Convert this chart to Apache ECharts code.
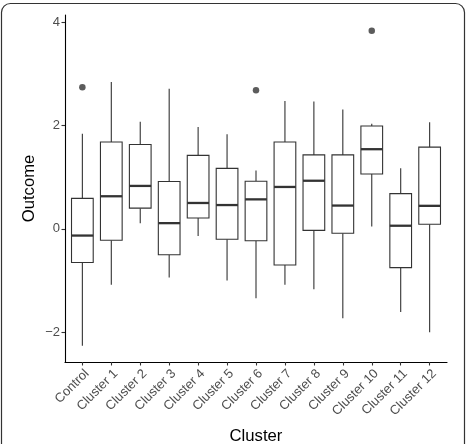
<!DOCTYPE html>
<html><head><meta charset="utf-8">
<script src="https://cdn.jsdelivr.net/npm/echarts@6/dist/echarts.min.js"></script>
<style>html,body{margin:0;padding:0;background:#fff}#c{width:467px;height:444px}</style>
</head><body><div id="c"></div>
<script>
const categories = ['Control','Cluster 1','Cluster 2','Cluster 3','Cluster 4','Cluster 5','Cluster 6','Cluster 7','Cluster 8','Cluster 9','Cluster 10','Cluster 11','Cluster 12'];
const whiskerLow  = [-2.26,-1.08,0.11,-0.94,-0.14,-1.00,-1.34,-1.08,-1.17,-1.73,0.045,-1.61,-2.00];
const q1          = [-0.65,-0.22,0.40,-0.50,0.21,-0.20,-0.23,-0.70,-0.03,-0.085,1.06,-0.75,0.09];
const medians     = [-0.13,0.63,0.83,0.11,0.50,0.46,0.57,0.81,0.93,0.45,1.54,0.06,0.445];
const q3          = [0.59,1.68,1.63,0.915,1.42,1.17,0.92,1.68,1.43,1.43,1.99,0.68,1.58];
const whiskerHigh = [1.84,2.84,2.07,2.71,1.97,1.83,1.13,2.47,2.46,2.31,2.03,1.17,2.06];
const outlierCategory = [0,6,10];
const outlierValue = [2.74,2.68,3.83];
const yTicks = [-2,0,2,4];

const xIdx = categories.map((c,i)=>i);
const boxData = categories.map((c,i)=>[i, whiskerLow[i], q1[i], medians[i], q3[i], whiskerHigh[i]]);
const outlierData = outlierCategory.map((c,i)=>[c, outlierValue[i]]);

function renderBox(params, api){
  const x = api.value(0);
  const band = api.size([1,0])[0];
  const half = band*0.75/2;
  const pLow = api.coord([x, api.value(1)]);
  const pQ1 = api.coord([x, api.value(2)]);
  const pMed = api.coord([x, api.value(3)]);
  const pQ3 = api.coord([x, api.value(4)]);
  const pHigh = api.coord([x, api.value(5)]);
  const cx = pLow[0];
  const st = {stroke:'#333', lineWidth:1.1, fill:null};
  return {type:'group', children:[
    {type:'line', shape:{x1:cx,y1:pQ3[1],x2:cx,y2:pHigh[1]}, style:st},
    {type:'line', shape:{x1:cx,y1:pQ1[1],x2:cx,y2:pLow[1]}, style:st},
    {type:'rect', shape:{x:cx-half,y:pQ3[1],width:2*half,height:pQ1[1]-pQ3[1]}, style:{stroke:'#333',lineWidth:1.1,fill:'#fff'}},
    {type:'line', shape:{x1:cx-half,y1:pMed[1],x2:cx+half,y2:pMed[1]}, style:{stroke:'#333',lineWidth:2.3}}
  ]};
}

const chart = echarts.init(document.getElementById('c'));
chart.setOption({
  backgroundColor:'#fff',
  animation:false,
  grid:{left:65,right:20,top:15,bottom:82,outerBoundsMode:'none',containLabel:false},
  xAxis:{
    type:'value', min:-0.6, max:12.6,
    name:'Cluster', nameLocation:'middle', nameGap:66, nameMoveOverlap:false,
    nameTextStyle:{fontSize:16.7,color:'#000',fontFamily:'Liberation Sans'},
    axisLine:{show:true,onZero:false,lineStyle:{color:'#000',width:1.1}},
    axisTick:{show:true,customValues:xIdx,length:3.5,lineStyle:{color:'#333',width:1.1}},
    axisLabel:{customValues:xIdx,formatter:v=>categories[Math.round(v)],rotate:45,verticalAlign:'top',fontSize:13,color:'#4d4d4d',margin:5,fontFamily:'Liberation Sans'},
    splitLine:{show:false}
  },
  yAxis:{
    type:'value', min:-2.575, max:4.135,
    name:'Outcome', nameLocation:'middle', nameGap:27, nameRotate:90, nameMoveOverlap:false,
    nameTextStyle:{fontSize:16.7,color:'#000',fontFamily:'Liberation Sans'},
    axisLine:{show:true,onZero:false,lineStyle:{color:'#000',width:1.1}},
    axisTick:{show:true,customValues:yTicks,length:3.5,lineStyle:{color:'#333',width:1.1}},
    axisLabel:{customValues:yTicks,formatter:v=>v<0?'\u2212'+Math.abs(v):String(v),fontSize:13,color:'#4d4d4d',margin:5,fontFamily:'Liberation Sans'},
    splitLine:{show:false}
  },
  graphic:[{type:'rect',shape:{x:1.5,y:3.5,width:463,height:480,r:9},style:{fill:null,stroke:'#333',lineWidth:1.2},silent:true}],
  series:[
    {type:'custom',renderItem:renderBox,data:boxData,encode:{x:0,y:[1,2,3,4,5]}},
    {type:'scatter',data:outlierData,symbolSize:6.5,itemStyle:{color:'#333'}}
  ]
});
</script></body></html>
